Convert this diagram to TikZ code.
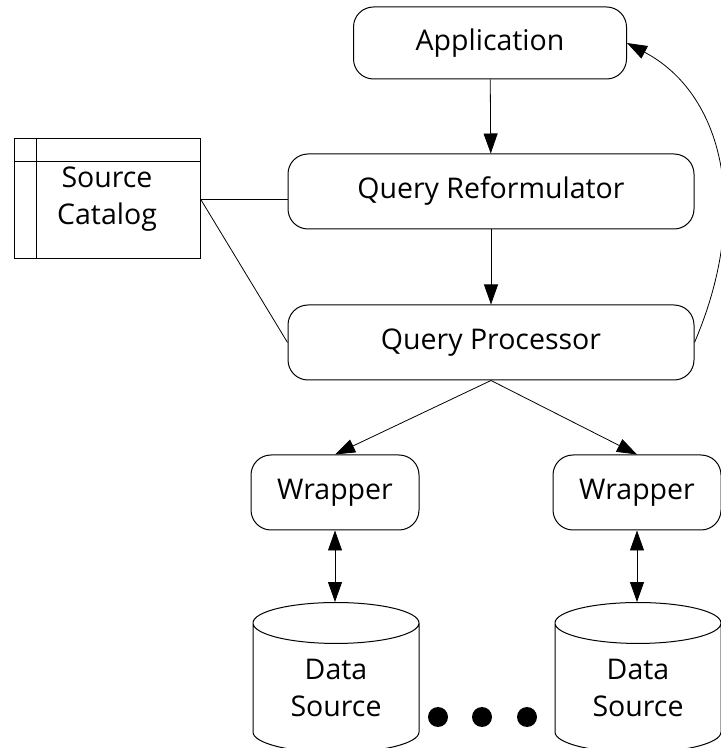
\documentclass[tikz,border=0pt]{standalone}
\usepackage{fontspec}
\setmainfont{Open Sans}
\usetikzlibrary{arrows.meta,shapes.geometric}
\tikzset{every node/.style={font=\fontsize{28.5}{37}\selectfont}}
\tikzset{procbox/.style={draw, line width=1pt, rounded corners=20pt, inner sep=0pt, align=center}}
\tikzset{catbox/.style={draw, line width=1pt, inner sep=0pt, align=center}}
\tikzset{dsource/.style={draw, line width=1pt, cylinder, shape border rotate=90, aspect=0.45, inner sep=0pt, align=center}}
\tikzset{dot/.style={circle, fill=black, inner sep=0pt, minimum size=20pt}}
\tikzset{link/.style={line width=0.8pt}}

\begin{document}
\begin{tikzpicture}[x=1pt, y=1pt, >={Triangle[length=20pt,width=14pt]}]

  \useasboundingbox (0,0) rectangle (721,748);

  % Mediator boxes.
  \node[procbox, minimum width=273pt, minimum height=72pt] (app) at (490,705) {Application};
  \node[procbox, minimum width=406pt, minimum height=75pt] (ref) at (491,556.5) {Query Reformulator};
  \node[procbox, minimum width=406pt, minimum height=75pt] (proc) at (491,405.5) {Query Processor};

  % Source catalog.
  \node[catbox, minimum width=186pt, minimum height=120pt] (cat) at (107,549) {Source\\Catalog};
  \draw[link] ([yshift=-23pt]cat.north west) -- ([yshift=-23pt]cat.north east);
  \draw[link] ([xshift=23pt]cat.north west) -- ([xshift=23pt]cat.south west);

  % Wrappers.
  \node[procbox, minimum width=168pt, minimum height=75pt] (wr1) at (335,255.5) {Wrapper};
  \node[procbox, minimum width=168pt, minimum height=75pt] (wr2) at (637,255.5) {Wrapper};

  % Data sources (cut by the lower edge).
  \node[dsource, minimum width=166pt, minimum height=150pt] (ds1) at (336,60) {Data\\Source};
  \node[dsource, minimum width=166pt, minimum height=150pt] (ds2) at (638,60) {Data\\Source};

  % Ellipsis.
  \node[dot] (d1) at (438,31) {};
  \node[dot] (d2) at (482,31) {};
  \node[dot] (d3) at (527,31) {};

  % Connectors.
  \draw[link, ->] (app) -- (ref);
  \draw[link, ->] (ref) -- (proc);
  \draw[link, ->] (proc.south) -- (wr1.north);
  \draw[link, ->] (proc.south) -- (wr2.north);
  \draw[link, <->] (wr1.south) -- (wr1.south |- ds1.north);
  \draw[link, <->] (wr2.south) -- (wr2.south |- ds2.north);
  \draw[link] (cat.east) -- (cat.east -| ref.west);
  \draw[link] (cat.east) -- (proc.west);

  % Results back to the application.
  \draw[link, ->] (proc.east) .. controls (752,540) and (722,655) .. (app.east);

\end{tikzpicture}
\end{document}
